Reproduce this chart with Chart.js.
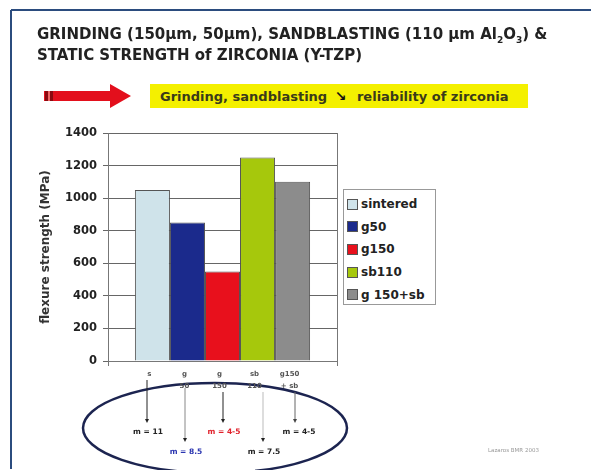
<!DOCTYPE html>
<html>
<head>
<meta charset="utf-8">
<script src="https://cdn.jsdelivr.net/npm/chart.js@4"></script>
<style>
  html, body { margin: 0; padding: 0; background: #fff; }
  body { width: 591px; height: 470px; position: relative; overflow: hidden; font-family: "DejaVu Sans", sans-serif; }
  #chart { position: absolute; left: 0; top: 0; }
  .title { position: absolute; left: 37px; font-weight: bold; font-size: 15px; line-height: 20px; color: #222; white-space: nowrap; }
  .hl { position: absolute; left: 150px; top: 84px; width: 378px; height: 24px; background: #f4f000;
        font-weight: bold; font-size: 13px; color: #3a3a1a; line-height: 24px; padding-left: 10px; box-sizing: border-box; white-space: nowrap; }
  #legend { position: absolute; left: 343px; top: 189px; width: 93px; height: 116px; border: 1px solid #999;
            box-sizing: border-box; padding: 3px 0 0 3px; background: #fff; }
  #legend div { height: 22.6px; font-weight: bold; font-size: 12px; color: #222; white-space: nowrap; display: flex; align-items: center; }
  #legend span.sw { display: inline-block; width: 9px; height: 9px; border: 1px solid #555; margin-right: 3px; }
  .mlab { position: absolute; font-size: 7.5px; font-weight: bold; white-space: nowrap; transform: translate(-50%, -50%); }
  .foot { position: absolute; left: 488px; top: 447px; font-size: 5.5px; color: #999; }
  svg { position: absolute; left: 0; top: 0; }
</style>
</head>
<body>
<svg width="591" height="470">
  <line x1="11" y1="10" x2="591" y2="10" stroke="#2b4c7e" stroke-width="2"/>
  <line x1="11" y1="10" x2="11" y2="469" stroke="#2b4c7e" stroke-width="2"/>
  <!-- red arrow -->
  <polygon points="44,91 110,91 110,84 131,96 110,108 110,101 44,101" fill="#e30f1c"/>
  <rect x="45" y="91" width="3" height="10" fill="#8a0a10"/>
  <rect x="48.5" y="91" width="1" height="10" fill="#f3c0b0"/>
  <rect x="50" y="91" width="3" height="10" fill="#8a0a10"/>
  <!-- ellipse -->
  <ellipse cx="215" cy="428" rx="132" ry="45" fill="none" stroke="#1c2450" stroke-width="2.5"/>
  <!-- m arrows -->
  <g stroke-width="1">
    <line x1="147" y1="380" x2="147" y2="421" stroke="#222"/>
    <line x1="185" y1="388" x2="185" y2="440" stroke="#888"/>
    <line x1="223" y1="392" x2="223" y2="421" stroke="#222"/>
    <line x1="263" y1="392" x2="263" y2="440" stroke="#bbb"/>
    <line x1="295" y1="392" x2="295" y2="421" stroke="#666"/>
  </g>
  <g>
    <polygon points="145,419 149,419 147,423" fill="#222"/>
    <polygon points="183,438 187,438 185,442" fill="#222"/>
    <polygon points="221,419 225,419 223,423" fill="#222"/>
    <polygon points="261,438 265,438 263,442" fill="#222"/>
    <polygon points="293,419 297,419 295,423" fill="#444"/>
  </g>
</svg>
<canvas id="chart" width="591" height="470"></canvas>
<div class="title" style="top:24px">GRINDING (150µm, 50µm), SANDBLASTING (110 µm Al<sub style="font-size:9px">2</sub>O<sub style="font-size:9px">3</sub>) &amp;</div>
<div class="title" style="top:45px">STATIC STRENGTH of ZIRCONIA (Y-TZP)</div>
<div class="hl">Grinding, sandblasting <span style="font-size:14px;color:#111;margin:0 6px 0 3px">↘</span> reliability of zirconia</div>
<div id="legend"></div>
<div id="mlabels"></div>
<div class="foot">Lazaros BMR 2003</div>

<script>
// --- données ---
const SERIES = ['sintered', 'g50', 'g150', 'sb110', 'g 150+sb'];
const VALUES = [1050, 850, 550, 1250, 1100];
const COLORS = ['#cfe3ea', '#1b2a8c', '#e8101c', '#a6c80c', '#8c8c8c'];
const TICK_LABELS = [['s'], ['g', '50'], ['g', '150'], ['sb', '110'], ['g150', '+ sb']];
const Y_TICKS = [0, 200, 400, 600, 800, 1000, 1200, 1400];
const M_LABELS = [
  { text: 'm = 11', x: 148, y: 431, color: '#222' },
  { text: 'm = 8.5', x: 186, y: 451, color: '#2a35b0' },
  { text: 'm = 4-5', x: 224, y: 431, color: '#e0202a' },
  { text: 'm = 7.5', x: 264, y: 451, color: '#222' },
  { text: 'm = 4-5', x: 299, y: 431, color: '#222' }
];
const FONT = '"DejaVu Sans", sans-serif';

// --- legende HTML ---
const legend = document.getElementById('legend');
SERIES.forEach((s, i) => {
  const d = document.createElement('div');
  d.innerHTML = `<span class="sw" style="background:${COLORS[i]}"></span>${s}`;
  legend.appendChild(d);
});

const ml = document.getElementById('mlabels');
M_LABELS.forEach(m => {
  const d = document.createElement('div');
  d.className = 'mlab';
  d.style.left = m.x + 'px';
  d.style.top = m.y + 'px';
  d.style.color = m.color;
  d.textContent = m.text;
  ml.appendChild(d);
});

// --- labels sous les barres ---
const barLabels = {
  id: 'barLabels',
  afterDatasetsDraw(chart) {
    const { ctx } = chart;
    ctx.save();
    ctx.font = 'bold 7px ' + FONT;
    ctx.fillStyle = '#555';
    ctx.textAlign = 'center';
    ctx.textBaseline = 'middle';
    TICK_LABELS.forEach((lines, i) => {
      const bar = chart.getDatasetMeta(i).data[0];
      lines.forEach((t, j) => ctx.fillText(t, bar.x - 3, chart.chartArea.bottom + 13 + j * 12));
    });
    ctx.restore();
  }
};

new Chart(document.getElementById('chart'), {
  type: 'bar',
  data: {
    labels: [''],
    datasets: SERIES.map((s, i) => ({
      label: s,
      data: [VALUES[i]],
      backgroundColor: COLORS[i],
      borderColor: '#555',
      borderWidth: 1
    }))
  },
  options: {
    responsive: false,
    animation: false,
    categoryPercentage: 0.765,
    barPercentage: 1,
    layout: { padding: { left: 35, top: 133, right: 254, bottom: 109 } },
    plugins: { legend: { display: false }, tooltip: { enabled: false } },
    scales: {
      x: {
        ticks: { display: false },
        grid: { display: true, offset: true, color: '#777', tickLength: 5 },
        border: { color: '#777' },
        afterFit: (s) => { s.height = 0; }
      },
      y: {
        min: 0, max: 1400,
        afterBuildTicks: (s) => { s.ticks = Y_TICKS.map(v => ({ value: v })); },
        ticks: { color: '#222', font: { size: 11.5, weight: 'bold', family: FONT }, padding: 6,
                 callback: (v) => String(v) },
        grid: { color: '#666', tickLength: 5 },
        border: { color: '#777' },
        title: { display: true, text: 'flexure strength (MPa)', color: '#333',
                 font: { size: 12, weight: 'bold', family: FONT }, padding: { top: 4, bottom: 0 } },
        afterFit: (s) => { s.width = 73; }
      }
    }
  },
  plugins: [barLabels]
});
</script>
</body>
</html>
